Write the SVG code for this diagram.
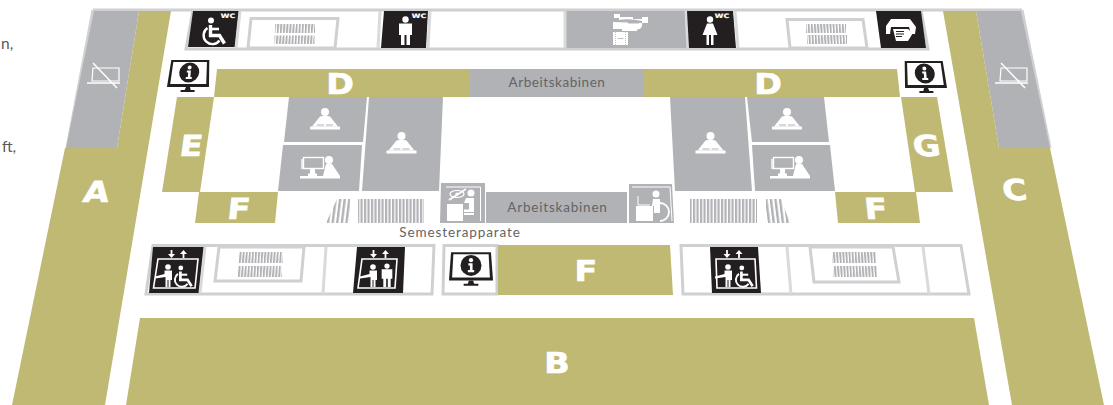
<svg xmlns="http://www.w3.org/2000/svg" width="1113" height="405" viewBox="0 0 1113 405">
<style>
.g{fill:#c0b973}.s{fill:#b1b2b5}.k{fill:#231f20}.w{fill:#fff}
.b{fill:none;stroke:#cfd0d2;stroke-width:3}
.bg{fill:#fff;stroke:#cfd0d2;stroke-width:3}
.sep{fill:none;stroke:#d9dadc;stroke-width:3}
.L{font-family:"DejaVu Sans",sans-serif;font-weight:700;font-size:29px;fill:#fff;stroke:#fff;stroke-width:.7;text-anchor:middle}
.t{font-family:Lato,sans-serif;font-size:13.5px;fill:#636466;text-anchor:middle;letter-spacing:.55px}
.wc{font-family:"DejaVu Sans",sans-serif;font-weight:700;font-size:6px;fill:#fff;stroke:#fff;stroke-width:.2;text-anchor:middle}
.p{font-family:Lato,sans-serif;font-size:15.5px;fill:#58595b}
.f{fill:#fff}
</style>
<defs>
<pattern id="h" width="3.5" height="10" patternUnits="userSpaceOnUse"><rect width="2.2" height="10" fill="#b1b2b5"/></pattern>
<pattern id="h4" width="4.600" height="10" patternUnits="userSpaceOnUse" patternTransform="skewX(-7)"><rect width="2.400" height="10" fill="#b1b2b5"/></pattern>
<pattern id="h5" width="4.600" height="10" patternUnits="userSpaceOnUse" patternTransform="skewX(7)"><rect width="2.400" height="10" fill="#b1b2b5"/></pattern>
<pattern id="hl" width="3.1" height="10" patternUnits="userSpaceOnUse" patternTransform="skewX(-4)"><rect width="1.9" height="10" fill="#b1b2b5"/></pattern>
<pattern id="hr" width="3.1" height="10" patternUnits="userSpaceOnUse" patternTransform="skewX(4)"><rect width="1.9" height="10" fill="#b1b2b5"/></pattern>
<g id="reader"><circle cx="0" cy="-17.500" r="4"/><path d="M-5,-13Q0,-14.500 5,-13L13,-3H-13Z"/><rect x="-15" y="-3" width="30" height="3"/><path d="M-8,-4.500H-1M1,-4.500H8" stroke="#b1b2b5" stroke-width="1"/></g>
<g id="pc"><rect x="-25.500" y="-20.500" width="20" height="11" fill="none" stroke="#fff" stroke-width="1.400"/><path d="M-27,-19V-9" stroke="#fff" stroke-width="1.400"/><rect x="-19" y="-9" width="5" height="5"/><rect x="-21" y="-4.500" width="9" height="2.500"/><circle cx="0" cy="-18" r="4"/><path d="M-3,-14H3L11,-2H-6Z"/><rect x="-29" y="-2" width="40" height="2.500"/></g>
<g id="info"><path d="M-19,-15H19L21,12H-21Z" fill="#231f20"/><path d="M-16.800,-13H16.800L18,9H-18Z" fill="#fff"/><circle cx="0" cy="-2.500" r="10" fill="#231f20"/><circle cx="0" cy="-7.500" r="2" fill="#fff"/><path d="M-2.500,-4.500H1.500V2H3V4H-3V2H-1V-2.500H-2.500Z" fill="#fff"/><path d="M-2,12H2L3,15H7V17H-7V15H-3Z" fill="#231f20"/></g>
<g id="wheel"><circle cx="-4" cy="-24.500" r="3"/><path d="M-4.500,-20V-9.500H4.500L9.500,-1.500" fill="none" stroke="#fff" stroke-width="3.400"/><path d="M-4,-16H4" stroke="#fff" stroke-width="2.600"/><path d="M-7.500,-17A8.800,8.800 0 1 0 4.500,-4.500" fill="none" stroke="#fff" stroke-width="2.400"/></g>
<g id="man"><circle cx="0" cy="-25.500" r="3.200"/><path d="M-6.500,-21.500H6.500V-10H4.500V0H1V-10H-1V0H-4.500V-10H-6.500Z"/></g>
<g id="woman"><circle cx="0" cy="-25.500" r="3.200"/><path d="M-3,-21.500H3L7.500,-10H3.500V0H1V-10H-1V0H-3.500V-10H-7.500Z"/></g>
<g id="arrows"><path d="M-6.500,-4V1" stroke="#fff" stroke-width="1.800"/><path d="M-10,0H-3L-6.500,4Z" fill="#fff"/><path d="M5.500,-1V4" stroke="#fff" stroke-width="1.800"/><path d="M2,0H9L5.500,-4Z" fill="#fff"/></g>
<g id="liftman"><circle cx="0" cy="-20" r="2.800"/><path d="M-3.500,-16.500H4V-7H2.500V0H.5V-7H-.5V0H-2.500V-10L-13,-8.500V-10.500L-3.500,-13Z"/></g>
<g id="nolaptop"><path d="M-10,-5H16V8H-11Z" fill="none" stroke="#fff" stroke-width="1.200"/><path d="M-16,10H17M-10,-10L14,15" fill="none" stroke="#fff" stroke-width="1.500"/></g>
</defs>
<rect width="1113" height="405" fill="#fff"/>

<g id="side-text"><text class="p" x="1" y="49">n,</text><text class="p" x="2" y="152">ft,</text></g>

<g id="floor-outline"><path class="b" d="M93,10H1022M93,10L67,148M1022,10L1050,148"/></g>

<g id="area-a"><path class="s" d="M94,11H139L117,148H66Z"/><path class="g" d="M139,11H171L105,405H12L65,148H117Z"/><use href="#nolaptop" transform="translate(103,73)"/><text class="L" transform="translate(95,202) skewX(-9) scale(1.15,1)">A</text></g>
<g id="area-c"><path class="s" d="M976,11H1021L1050,148H999Z"/><path class="g" d="M943,11H976L999,148H1050L1104,405H1012Z"/><use href="#nolaptop" transform="translate(1011,73)"/><text class="L" transform="translate(1016,200) skewX(8) scale(1.15,1)">C</text></g>
<g id="area-b"><path class="g" d="M140,318H974L989,405H126Z"/><text class="L" transform="translate(557,373) scale(1.15,1)">B</text></g>

<g id="top-row"><path class="b" d="M193,10L186,49H928L921,10"/>
<path class="k" d="M193,11H239L235,47H188Z"/><use href="#wheel" transform="translate(215,45)" fill="#fff"/><text class="wc" transform="translate(228,18) scale(1.300,1)">WC</text>
<path class="sep" d="M240,11L236,48"/><path class="bg" d="M251,18.500H338L335,48H248Z"/><rect x="275" y="24" width="40" height="9" fill="url(#hl)"/><rect x="274.500" y="35.500" width="40" height="8.500" fill="url(#hl)"/>
<path class="sep" d="M380,11L378,48"/>
<path class="k" d="M384,11H428L426,48H381Z"/><use href="#man" transform="translate(405.500,45)" fill="#fff"/><text class="wc" transform="translate(419,17.500) scale(1.300,1)">WC</text><path class="sep" d="M430,11L428,48"/>
<path class="s" d="M566,11H685L687,48H566Z"/><path class="sep" d="M565,11V48M686,11L688,48"/>
<g id="camera"><path class="f" d="M613,22H618V20Q630,18 642,21V23H648V17H642V19H633V17H620V14H614V18H619V20H618V22H613V29H622V31H637V29.500Q642,29 642,25V23H642Z"/><path d="M628,21.500H639V23.500H628Z" fill="#b1b2b5"/><rect class="f" x="613" y="32" width="15" height="13"/><path d="M615.500,32V45M625.500,32V45" stroke="#b1b2b5" stroke-width=".8" stroke-dasharray="1 1"/><path d="M617.500,38.500H623.500" stroke="#b1b2b5" stroke-width=".8"/></g>
<path class="k" d="M687,11H733L736,48H689Z"/><use href="#woman" transform="translate(710,45)" fill="#fff"/><text class="wc" transform="translate(722,17.500) scale(1.300,1)">WC</text><path class="sep" d="M735,11L738,48"/>
<path class="bg" d="M787,19.500H863L867,48H790Z"/><rect x="806" y="24" width="40" height="9" fill="url(#hr)"/><rect x="807" y="35" width="40" height="9" fill="url(#hr)"/>
<path class="k" d="M876,11H921L926,48H881Z"/><g id="printer"><path class="f" d="M891,19H910L916,27L915,34H911L909,27H891L890,34H886V26Z"/><path class="f" d="M893,29H908L913,33L908,41H896Z"/><path d="M896,31.500H904M896,34H904M896,36.500H902" stroke="#231f20" stroke-width="1"/></g>
</g>

<g id="area-d-left"><path class="g" d="M217,69H470V97H214Z"/><text class="L" transform="translate(340,93.500) scale(1.150,1)">D</text></g>
<g id="work-top"><path class="s" d="M470,69H644V97H470Z"/><text class="t" x="557" y="87">Arbeitskabinen</text></g>
<g id="area-d-right"><path class="g" d="M644,69H897L900,97H644Z"/><text class="L" transform="translate(768,93.500) scale(1.150,1)">D</text></g>
<g id="info-left"><use href="#info" transform="translate(189,75) skewX(-5)"/></g>
<g id="info-right"><use href="#info" transform="translate(925,76) skewX(5)"/></g>

<g id="area-e"><path class="g" d="M177,97H214L200,192H162Z"/><text class="L" transform="translate(190,156) skewX(-8) scale(1.150,1)">E</text></g>
<g id="area-f-left"><path class="g" d="M199,192H278L275,223H195Z"/><text class="L" transform="translate(238,219) skewX(-6) scale(1.150,1)">F</text></g>
<g id="room-l1"><path class="s" d="M289,97H367L363,142H284Z"/><use href="#reader" transform="translate(325,129.500)" fill="#fff"/></g>
<g id="room-l2"><path class="s" d="M283,145H362L359,191H278Z"/><use href="#pc" transform="translate(329,178)" fill="#fff"/></g>
<g id="room-l3"><path class="s" d="M369,97H443L439,191H362Z"/><use href="#reader" transform="translate(401.500,153.500)" fill="#fff"/></g>
<g id="room-r3"><path class="s" d="M670,97H745L752,191H675Z"/><use href="#reader" transform="translate(710.500,153.500)" fill="#fff"/></g>
<g id="room-r1"><path class="s" d="M747,97H824L829,142H752Z"/><use href="#reader" transform="translate(787,129.500)" fill="#fff"/></g>
<g id="room-r2"><path class="s" d="M752,145H830L835,191H755Z"/><use href="#pc" transform="translate(799,178)" fill="#fff"/></g>
<g id="area-g"><path class="g" d="M901,97H937L953,192H915Z"/><text class="L" transform="translate(928,156) skewX(8) scale(1.150,1)">G</text></g>
<g id="area-f-right"><path class="g" d="M835,192H916L920,223H838Z"/><text class="L" transform="translate(877,219) skewX(6) scale(1.150,1)">F</text></g>

<g id="shelves"><path d="M326,223L337,199H350V223Z" fill="url(#h4)"/><rect x="358" y="199" width="66" height="24" fill="url(#h)"/><rect x="690" y="199" width="67" height="24" fill="url(#h)"/><path d="M766,199H781L790,223H766Z" fill="url(#h5)"/></g>
<g id="semester"><text class="t" style="letter-spacing:.9px" x="460" y="237">Semesterapparate</text></g>

<g id="icon-glasses"><path class="s" d="M441,183H485V223H440Z"/><path d="M446,187H480.500V221" fill="none" stroke="#fff" stroke-width="1"/><circle cx="471" cy="193" r="3.500" class="f"/><path class="f" d="M466,198H474V212H464V209.500H469V203H464Z"/><rect class="f" x="447" y="204" width="16" height="17"/><rect class="f" x="464" y="213" width="10" height="2"/><ellipse cx="457" cy="194" rx="7" ry="3.500" fill="none" stroke="#fff" stroke-width="1.200"/><circle cx="457" cy="194" r="1.600" class="f"/><path d="M449,200L466,189" stroke="#fff" stroke-width="1.800"/></g>
<g id="work-bottom"><path class="s" d="M486,192H627V223H486Z"/><text class="t" style="letter-spacing:.8px" x="557.500" y="212">Arbeitskabinen</text></g>
<g id="icon-desk"><path class="s" d="M629,184H672L674,223H629Z"/><path d="M632,187H670L672,221" fill="none" stroke="#fff" stroke-width="1"/><circle cx="656" cy="194" r="3.500" class="f"/><path class="f" d="M653,199H660V213H654V206H652Z"/><rect class="f" x="636" y="206" width="17" height="15"/><path d="M638,196V205H650" fill="none" stroke="#fff" stroke-width="1"/><path d="M660,203A9,9 0 0 1 660,221" fill="none" stroke="#fff" stroke-width="1.800"/></g>

<g id="bottom-left"><path class="b" d="M153,245.500H434L432,294H146Z"/>
<path class="k" d="M153,247H204L199,293H149Z"/><use href="#arrows" transform="translate(178,254)"/><path d="M158,259H198L195,288H153.500Z" fill="none" stroke="#fff" stroke-width="1.600"/><use href="#liftman" transform="translate(168,287)" fill="#fff"/><use href="#wheel" transform="translate(184,287.500) scale(.8)" fill="#fff"/>
<path class="sep" d="M205,247L200,293"/><path class="sep" d="M326,247L323,294"/>
<path class="bg" d="M219,247H304L301,281H215Z"/><rect x="239" y="252" width="44" height="11" fill="url(#hl)"/><rect x="238" y="266" width="44" height="11" fill="url(#hl)"/>
<path class="k" d="M357,247H405L403,293H353Z"/><use href="#arrows" transform="translate(380,254)"/><path d="M362,259H397L395,288H358Z" fill="none" stroke="#fff" stroke-width="1.600"/><use href="#liftman" transform="translate(373,287)" fill="#fff"/><use href="#man" transform="translate(387,287) scale(.82)" fill="#fff"/></g>

<g id="info-center"><path class="b" d="M444,245.500H497V294H443Z"/><use href="#info" transform="translate(471,268) scale(1.050)"/></g>
<g id="area-f-center"><path class="g" d="M498,245H670L673,295H498Z"/><text class="L" transform="translate(586,280.500) scale(1.150,1)">F</text></g>

<g id="bottom-right"><path class="b" d="M681,245.500H961L969,294H683Z"/>
<path class="k" d="M710,247H758L761,293H712Z"/><use href="#arrows" transform="translate(733.500,254)"/><path d="M716,259H755L756.500,288H717Z" fill="none" stroke="#fff" stroke-width="1.600"/><use href="#liftman" transform="translate(728,287)" fill="#fff"/><use href="#wheel" transform="translate(745,287.500) scale(.8)" fill="#fff"/>
<path class="sep" d="M787,247L791,294M923,247L929,294"/>
<path class="bg" d="M810,247H893L899,282H814Z"/><rect x="832" y="252" width="44" height="11" fill="url(#hr)"/><rect x="833" y="266" width="44" height="11" fill="url(#hr)"/></g>
</svg>
